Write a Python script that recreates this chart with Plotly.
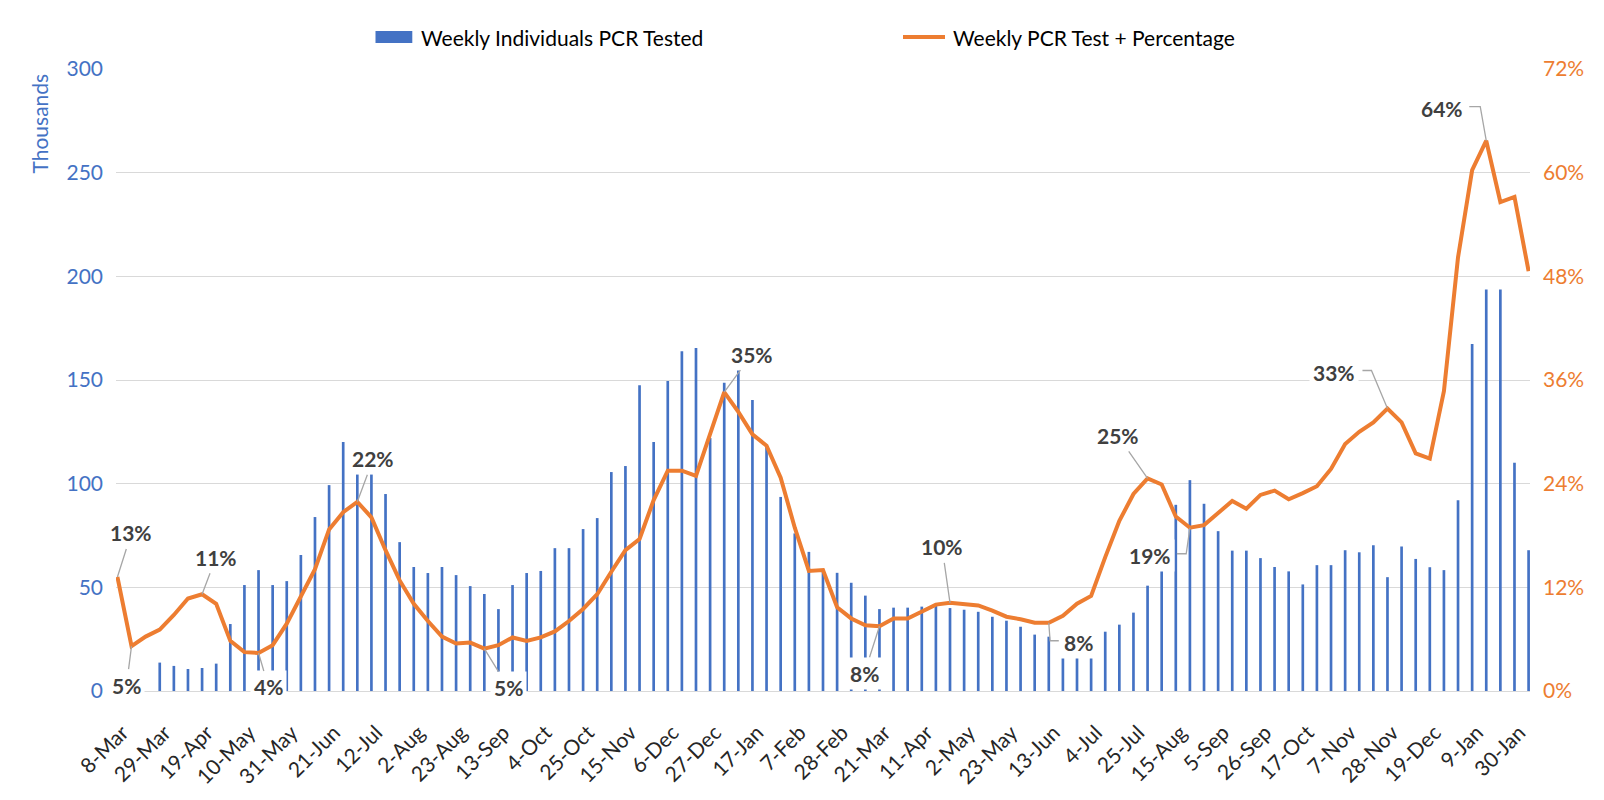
import plotly.graph_objects as go
import pandas as pd

# ---------------- data ----------------
weeks = pd.date_range("2020-03-08", periods=101, freq="7D")
categories = [f"{d.day}-{d.strftime('%b')}" for d in weeks]
tick_labels = categories[::3]

tested_thousands = [
    None, None, None, 13.7, 12.1, 10.6, 11.1, 13.2, 32.3, 51.1,
    58.3, 51.1, 53.0, 65.6, 83.9, 99.3, 120.1, 104.6, 104.6, 95.0,
    71.8, 59.8, 56.9, 59.8, 55.9, 50.6, 46.8, 39.5, 51.1, 56.9,
    57.9, 68.9, 68.9, 78.1, 83.4, 105.6, 108.5, 147.5, 120.1, 149.5,
    163.9, 165.4, 122.0, 148.7, 154.8, 140.3, 118.0, 93.6, 76.0, 67.1,
    57.5, 57.0, 52.2, 46.0, 39.5, 40.2, 40.2, 40.7, 41.0, 40.0,
    39.2, 38.2, 35.8, 33.9, 31.0, 27.2, 26.2, 16.1, 16.1, 16.1,
    28.6, 32.0, 37.8, 50.8, 58.0, 89.8, 101.7, 90.3, 77.1, 67.7,
    67.7, 64.1, 59.8, 57.7, 51.4, 60.7, 60.7, 67.9, 66.9, 70.3,
    54.9, 69.7, 63.7, 59.7, 58.3, 92.0, 167.4, 193.7, 193.7, 110.1,
    67.9,
]

positive_pct = [
    13.2, 5.2, 6.3, 7.1, 8.8, 10.7, 11.2, 10.1, 5.8, 4.5,
    4.4, 5.3, 7.8, 10.9, 14.1, 18.7, 20.7, 21.9, 20.1, 16.3,
    12.8, 10.1, 8.1, 6.3, 5.5, 5.6, 4.9, 5.3, 6.2, 5.8,
    6.2, 6.9, 8.1, 9.5, 11.2, 13.8, 16.3, 17.6, 22.1, 25.5,
    25.5, 24.9, 29.6, 34.6, 32.3, 29.7, 28.4, 24.7, 18.9, 13.9,
    14.0, 9.7, 8.4, 7.6, 7.5, 8.4, 8.4, 9.2, 10.0, 10.2,
    10.0, 9.9, 9.3, 8.6, 8.3, 7.9, 7.9, 8.7, 10.1, 11.0,
    15.5, 19.7, 22.8, 24.6, 23.9, 20.2, 18.9, 19.2, 20.6, 22.0,
    21.1, 22.7, 23.2, 22.2, 22.9, 23.7, 25.7, 28.6, 30.0, 31.1,
    32.7, 31.1, 27.5, 26.9, 34.7, 50.2, 60.3, 63.7, 56.6, 57.2,
    48.6,
]

left_ticks = [0, 50, 100, 150, 200, 250, 300]
right_ticks = [0, 12, 24, 36, 48, 60, 72]
right_tick_text = ["0%", "12%", "24%", "36%", "48%", "60%", "72%"]

# labelled points of the positivity line: text offset (px, screen y down) and,
# for bent leader lines, the leader's bend points (px, screen y down)
data_labels = [
    (0, (14, -44), None),
    (1, (-5, 39), None),
    (6, (14, -37), None),
    (10, (10, 34), None),
    (17, (16, -43), None),
    (26, (24, 39), None),
    (43, (28, -38), None),
    (54, (-15, 47), None),
    (59, (-8, -56), None),
    (66, (30, 20), [(1.3, 18), (10, 18)]),
    (73, (-30, -43), None),
    (76, (-40, 28), [(-3.7, 26), (-13, 26)]),
    (90, (-53, -36), [(-16, -38), (-25, -38)]),
    (97, (-44, -32), [(-6, -34), (-17, -34)]),
]

# ---------------- layout constants ----------------
PAGE_OFF = 8            # default body margin of the html page
W, H = 1604 - 2 * PAGE_OFF, 800 - 2 * PAGE_OFF
ML, MR, MT, MB = 108, 66, 61, 101
PW = W - ML - MR
PH = H - MT - MB
FONT = "Lato, 'Open Sans', sans-serif"
BLUE = "#4472C4"
ORANGE = "#ED7D31"
GRID = "#D9D9D9"
LEADER = "#A6A6A6"
FS = 21


def px_x(px):
    return (px - PAGE_OFF - ML) / PW


def px_y(py):
    return (H - MB - (py - PAGE_OFF)) / PH


fig = go.Figure()
fig.add_trace(go.Bar(
    x=categories, y=tested_thousands, name="Weekly Individuals PCR Tested",
    marker=dict(color=BLUE, line=dict(width=0)), width=0.19, yaxis="y",
    showlegend=False,
))
fig.add_trace(go.Scatter(
    x=categories, y=positive_pct, name="Weekly PCR Test + Percentage",
    mode="lines", line=dict(color=ORANGE, width=4), yaxis="y2",
    showlegend=False,
))

annotations = []
shapes = []
label_font = dict(family=FONT, size=FS, color="#404040", weight="bold")
for idx, (ax, ay), bend in data_labels:
    txt = f"{round(positive_pct[idx])}%"
    if bend is None:
        annotations.append(dict(
            x=categories[idx], y=positive_pct[idx], xref="x", yref="y2",
            text=txt, showarrow=True, arrowhead=0, arrowwidth=1.3,
            arrowcolor=LEADER, ax=ax, ay=ay, standoff=0,
            font=label_font, bgcolor="white", borderpad=3,
        ))
    else:
        path = "M0,0" + "".join(f" L{bx},{-by}" for bx, by in bend)
        shapes.append(dict(
            type="path", xref="x", yref="y2", xsizemode="pixel",
            ysizemode="pixel", xanchor=idx, yanchor=positive_pct[idx],
            path=path, line=dict(color=LEADER, width=1.3), layer="above",
        ))
        annotations.append(dict(
            x=categories[idx], y=positive_pct[idx], xref="x", yref="y2",
            text=txt, showarrow=False, xshift=ax, yshift=-ay,
            font=label_font, bgcolor="white", borderpad=3,
        ))

# axis title placed at the top of the left axis, as in the original
annotations.append(dict(
    x=px_x(38.5), y=px_y(124), xref="paper", yref="paper",
    text="Thousands", showarrow=False, textangle=-90,
    xanchor="center", yanchor="middle",
    font=dict(family=FONT, size=21, color=BLUE),
))

# legend (drawn by hand to match the wide swatches)
legend_y = 37
annotations.append(dict(
    x=px_x(419), y=px_y(legend_y), xref="paper", yref="paper",
    text="Weekly Individuals PCR Tested", showarrow=False,
    xanchor="left", yanchor="middle",
    font=dict(family=FONT, size=FS, color="#000000"),
))
annotations.append(dict(
    x=px_x(951), y=px_y(legend_y), xref="paper", yref="paper",
    text="Weekly PCR Test + Percentage", showarrow=False,
    xanchor="left", yanchor="middle",
    font=dict(family=FONT, size=FS, color="#000000"),
))
shapes += [
    dict(type="rect", xref="paper", yref="paper",
         x0=px_x(375.5), x1=px_x(412.3), y0=px_y(legend_y + 6), y1=px_y(legend_y - 6),
         fillcolor=BLUE, line=dict(width=0)),
    dict(type="line", xref="paper", yref="paper",
         x0=px_x(903), x1=px_x(945), y0=px_y(legend_y), y1=px_y(legend_y),
         line=dict(color=ORANGE, width=4)),
]

fig.update_layout(
    width=W, height=H,
    margin=dict(l=ML, r=MR, t=MT, b=MB, pad=0, autoexpand=False),
    paper_bgcolor="white", plot_bgcolor="white",
    font=dict(family=FONT, size=FS, color="#262626"),
    showlegend=False,
    xaxis=dict(
        type="category", range=[-0.1, 100.1], tickmode="array",
        tickvals=tick_labels, ticktext=tick_labels, tickangle=-45,
        showgrid=False, zeroline=False, showline=True, linecolor=GRID,
        linewidth=1.3, ticks="", ticklabelstandoff=20, ticklabelshift=5,
        tickfont=dict(size=21, color="#262626"), automargin=False,
    ),
    yaxis=dict(
        range=[0, 300], tickvals=left_ticks, showgrid=True, gridcolor=GRID,
        gridwidth=1.3, zeroline=False, ticks="", ticklabelstandoff=12,
        tickfont=dict(size=FS, color=BLUE), automargin=False,
    ),
    yaxis2=dict(
        range=[0, 72], tickvals=right_ticks, ticktext=right_tick_text,
        overlaying="y", side="right", showgrid=False, zeroline=False,
        ticks="", ticklabelstandoff=12, tickfont=dict(size=FS, color=ORANGE),
        automargin=False,
    ),
    annotations=annotations,
    shapes=shapes,
)

fig.write_html("out.html")
